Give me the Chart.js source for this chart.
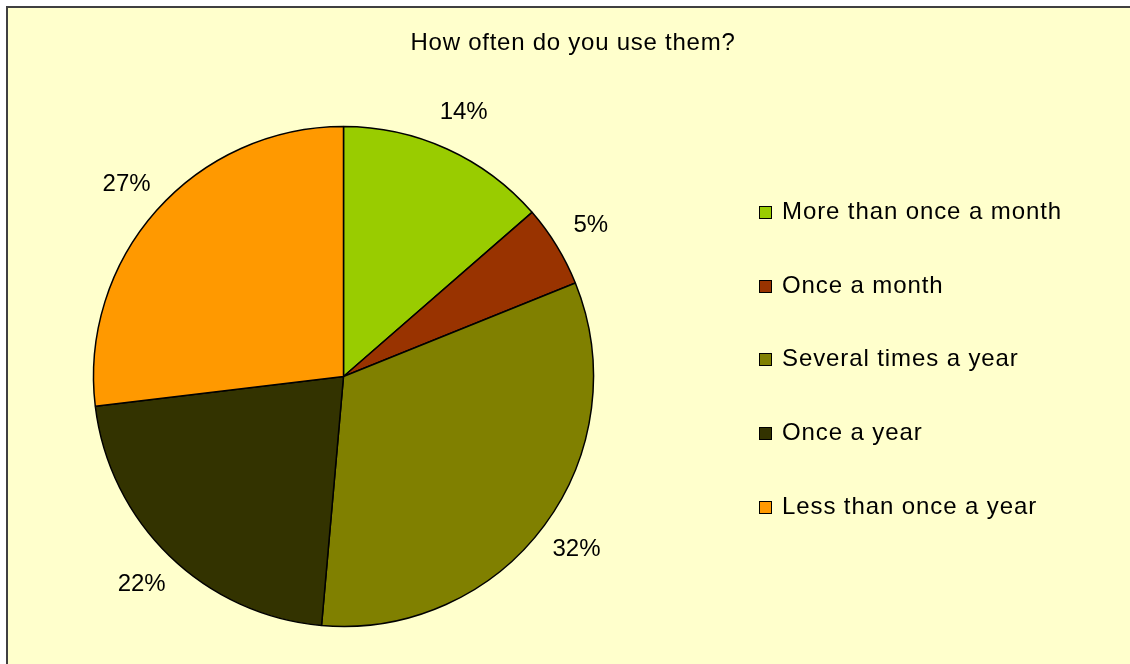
<!DOCTYPE html>
<html>
<head>
<meta charset="utf-8">
<title>How often do you use them?</title>
<script src="https://cdn.jsdelivr.net/npm/chart.js@4.4.1/dist/chart.umd.min.js"></script>
<style>
  html, body { margin: 0; padding: 0; background: #fff; overflow: hidden; }
  ::-webkit-scrollbar { display: none; }
  body { width: 1130px; height: 664px; position: relative;
         font-family: "Liberation Sans", Arial, sans-serif; color: #000; }
  #frame { position: absolute; left: 6px; top: 6px; right: -40px; bottom: -40px;
           border-left: 2px solid #404040; border-top: 2px solid #404040;
           background: #FFFFCC; }
  #chart { position: absolute; left: 0; top: 0; }
  #title { position: absolute; left: 0; top: 28px; width: 1146px; text-align: center;
           font-size: 24px; line-height: 28px; letter-spacing: 0.75px; }
  #legend { position: absolute; left: 759px; top: 174px; margin: 0; padding: 0;
            list-style: none; }
  #legend li { height: 73.75px; display: flex; align-items: center;
               font-size: 24px; letter-spacing: 0.9px; white-space: nowrap; }
  #legend .swatch { display: inline-block; width: 11px; height: 11px;
                    border: 1.5px solid #000; margin: 3px 10px 0 0; }
</style>
</head>
<body>
<div id="frame"></div>
<canvas id="chart" width="1130" height="664"></canvas>
<div id="title">How often do you use them?</div>
<ul id="legend"></ul>
<script>
/* Pie: how often respondents use them. */

const categories = [
  "More than once a month",
  "Once a month",
  "Several times a year",
  "Once a year",
  "Less than once a year",
];
const shares = [13.6, 5.3, 32.5, 21.7, 26.9];
const shareLabels = ["14%", "5%", "32%", "22%", "27%"];

const COLORS = ["#99CC00", "#993300", "#808000", "#333300", "#FF9900"];

/* Percent labels just outside each slice, along its middle angle. */
const outsideLabels = {
  id: "outsideLabels",
  afterDatasetsDraw(chart) {
    const ctx = chart.ctx;
    const meta = chart.getDatasetMeta(0);
    ctx.save();
    ctx.font = '24px "Liberation Sans", Arial, sans-serif';
    ctx.fillStyle = "#000";
    ctx.textAlign = "center";
    ctx.textBaseline = "middle";
    meta.data.forEach((arc, i) => {
      const p = arc.getProps(["x", "y", "startAngle", "endAngle", "outerRadius"], true);
      const mid = (p.startAngle + p.endAngle) / 2;
      const r = p.outerRadius + 40;
      ctx.fillText(shareLabels[i], p.x + Math.cos(mid) * r, p.y + Math.sin(mid) * r);
    });
    ctx.restore();
  },
};

function buildLegend() {
  const ul = document.getElementById("legend");
  categories.forEach((name, i) => {
    const li = document.createElement("li");
    li.innerHTML = `<span class="swatch" style="background:${COLORS[i]}"></span>${name}`;
    ul.appendChild(li);
  });
}

new Chart(document.getElementById("chart"), {
  type: "pie",
  data: {
    labels: categories,
    datasets: [{
      data: shares,
      backgroundColor: COLORS,
      borderColor: "#000",
      borderWidth: 1.5,
      radius: 250,
      hoverOffset: 0,
    }],
  },
  options: {
    responsive: false,
    animation: false,
    events: [],
    layout: { padding: { left: 43, right: 486, top: 100, bottom: 11 } },
    plugins: {
      legend: { display: false },
      title: { display: false },
      tooltip: { enabled: false },
    },
  },
  plugins: [outsideLabels],
});

buildLegend();
</script>
</body>
</html>
